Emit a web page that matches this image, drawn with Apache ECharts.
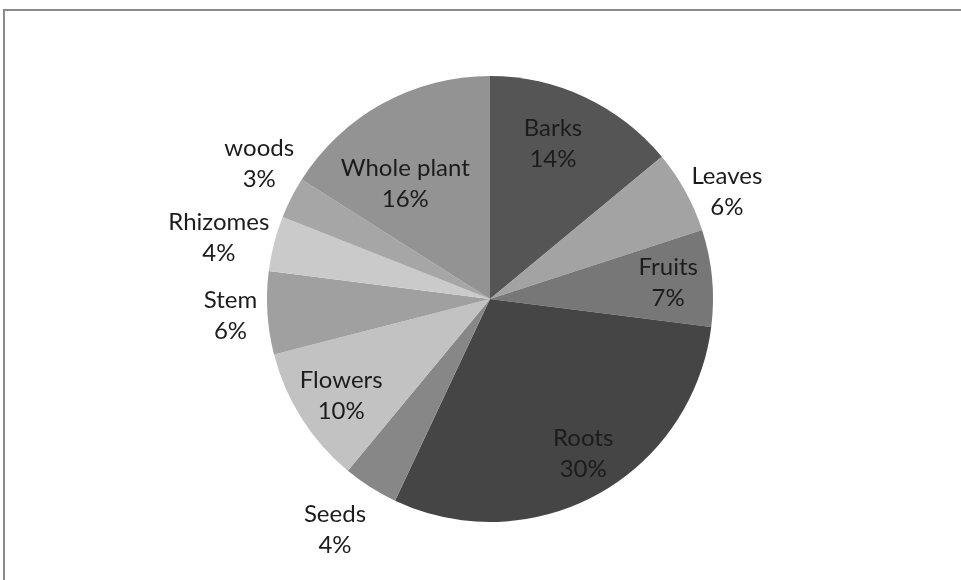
<!DOCTYPE html>
<html>
<head>
<meta charset="utf-8">
<script src="https://cdn.jsdelivr.net/npm/echarts@6/dist/echarts.min.js"></script>
<style>
  html, body { margin: 0; padding: 0; background: #fff; }
  #chart { width: 961px; height: 580px; }
</style>
</head>
<body>
<div id="chart"></div>
<script>
// Plant parts used, share of total (clockwise from 12 o'clock)
const parts = ['Barks', 'Leaves', 'Fruits', 'Roots', 'Seeds', 'Flowers', 'Stem', 'Rhizomes', 'woods', 'Whole plant'];
const shares = [14, 6, 7, 30, 4, 10, 6, 4, 3, 16];
const shades = ['#555555', '#a3a3a3', '#777777', '#454545', '#878787', '#c2c2c2', '#a0a0a0', '#cacaca', '#a6a6a6', '#939393'];

// Label rings: [inner radius, outer radius, labels centred on that ring]
const labelRings = [
  [130, 170, ['Whole plant']],
  [146, 186, ['Barks']],
  [158, 198, ['Fruits', 'Roots', 'Flowers']],
  [245, 285, ['Leaves', 'Stem', 'woods']],
  [257, 297, ['Seeds', 'Rhizomes']]
];
// Small nudges so the text sits where the slice leaves room
const labelNudge = {
  'Leaves': [2, 22], 'woods': [8, -14], 'Rhizomes': [0, 8], 'Seeds': [-5, -6],
  'Whole plant': [-11, 19], 'Barks': [-9, -2], 'Roots': [6, -4], 'Flowers': [4, 0],
  'Stem': [8, 0], 'Fruits': [-2, 1]
};

const center = [490, 299];
const R = 223;
const labelFont = { fontFamily: 'Lato', fontSize: 24, lineHeight: 31, color: '#1c1c1c' };

function slices(showFor, transparent) {
  return parts.map((p, i) => ({
    name: p,
    value: shares[i],
    itemStyle: { color: transparent ? 'rgba(0,0,0,0)' : shades[i] },
    label: {
      show: !!showFor && showFor.includes(p),
      offset: labelNudge[p] || [0, 0]
    }
  }));
}

// A transparent ring that only carries labels at its mid radius
function labelRing([inner, outer, names]) {
  return {
    type: 'pie',
    silent: true,
    center: center,
    radius: [inner, outer],
    startAngle: 90,
    avoidLabelOverlap: false,
    labelLayout: { hideOverlap: false },
    labelLine: { show: false },
    label: Object.assign({
      position: 'inside',
      formatter: p => p.name + '\n' + p.value + '%'
    }, labelFont),
    emphasis: { disabled: true },
    data: slices(names, true)
  };
}

const chart = echarts.init(document.getElementById('chart'), null, { renderer: 'canvas' });
chart.setOption({
  animation: false,
  backgroundColor: '#ffffff',
  graphic: [{
    type: 'rect',
    shape: { x: 4, y: 10, width: 1000, height: 700 },
    style: { fill: 'none', stroke: '#8a8a8a', lineWidth: 2 },
    silent: true
  }],
  series: [
    {
      type: 'pie',
      center: center,
      radius: [0, R],
      startAngle: 90,
      label: { show: false },
      labelLine: { show: false },
      emphasis: { disabled: true },
      data: slices(null, false)
    }
  ].concat(labelRings.map(labelRing))
});
</script>
</body>
</html>
